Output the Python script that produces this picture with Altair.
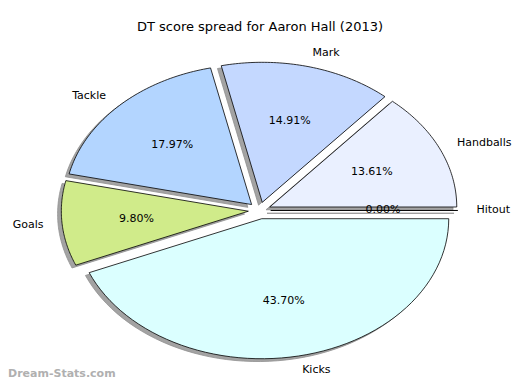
import altair as alt
import pandas as pd

categories = ["Handballs", "Mark", "Tackle", "Goals", "Kicks", "Hitout"]
values = [13.61, 14.91, 17.97, 9.80, 43.70, 0.0]
explode = [0.06, 0.06, 0.06, 0.06, 0.06, 0.06]
colors = ["#EAF0FF", "#C4D8FF", "#B3D5FF", "#D0EB8A", "#DBFFFF", "#F0F0F0"]
labels = ["13.61%", "14.91%", "17.97%", "9.80%", "43.70%", "0.00%"]

df = pd.DataFrame({
    "category": categories,
    "value": values,
    "explode": explode,
    "color": colors,
    "pct": labels,
    "order": list(range(len(categories))),
})

W, H = 504, 374
xs = alt.Scale(domain=[-1.345, 1.350], nice=False, zero=False)
ys = alt.Scale(domain=[-1.225, 1.446], nice=False, zero=False)

base = (
    alt.Chart(df)
    .transform_joinaggregate(total="sum(value)")
    .transform_window(cum="sum(value)", sort=[alt.SortField("order")], frame=[None, 0])
    .transform_calculate(
        a0="2*PI*(datum.cum - datum.value)/datum.total",
        a1="2*PI*datum.cum/datum.total",
    )
    .transform_calculate(mid="(datum.a0 + datum.a1)/2")
    .transform_calculate(
        ex="datum.explode*cos(datum.mid)",
        ey="datum.explode*sin(datum.mid)",
    )
)

poly = (
    base.transform_calculate(steps="sequence(0, 63)")
    .transform_flatten(["steps"], as_=["k"])
    .transform_calculate(
        ang="datum.a0 + (datum.a1 - datum.a0)*clamp((datum.k - 1)/60, 0, 1)",
        r="(datum.k == 0 || datum.k == 62) ? 0 : 1",
    )
    .transform_calculate(
        px="datum.ex + datum.r*cos(datum.ang)",
        py="datum.ey + datum.r*sin(datum.ang)",
    )
    .transform_calculate(sx="datum.px - 0.02", sy="datum.py - 0.02")
)

shadow = poly.mark_line(fill="#999999", fillOpacity=0.9, stroke="#8f8f8f", strokeWidth=0.8, interpolate="linear").encode(
    x=alt.X("sx:Q", scale=xs, axis=None),
    y=alt.Y("sy:Q", scale=ys, axis=None),
    detail="category:N",
    order="k:Q",
)

wedges = poly.mark_line(stroke="black", strokeWidth=0.8, interpolate="linear").encode(
    x=alt.X("px:Q", scale=xs, axis=None),
    y=alt.Y("py:Q", scale=ys, axis=None),
    fill=alt.Fill("color:N", scale=None),
    detail="category:N",
    order="k:Q",
)

lab = base.transform_calculate(
    lx="datum.ex + 1.1*cos(datum.mid)",
    ly="datum.ey + 1.1*sin(datum.mid)",
    px2="datum.ex + 0.6*cos(datum.mid)",
    py2="datum.ey + 0.6*sin(datum.mid)",
)

font = "DejaVu Sans"
lab_left = lab.transform_filter("cos(datum.mid) > 0").mark_text(
    align="left", baseline="middle", font=font, fontSize=11, color="black"
).encode(x=alt.X("lx:Q", scale=xs), y=alt.Y("ly:Q", scale=ys), text="category:N")

lab_right = lab.transform_filter("cos(datum.mid) <= 0").mark_text(
    align="right", baseline="middle", font=font, fontSize=11, color="black"
).encode(x=alt.X("lx:Q", scale=xs), y=alt.Y("ly:Q", scale=ys), text="category:N")

pcts = lab.mark_text(align="center", baseline="middle", font=font, fontSize=11, color="black").encode(
    x=alt.X("px2:Q", scale=xs), y=alt.Y("py2:Q", scale=ys), text="pct:N"
)

title = alt.Chart(pd.DataFrame({"t": ["DT score spread for Aaron Hall (2013)"]})).mark_text(
    align="center", baseline="middle", font=font, fontSize=13, color="black"
).encode(x=alt.value(252), y=alt.value(19), text="t:N")

watermark = alt.Chart(pd.DataFrame({"t": ["Dream-Stats.com"]})).mark_text(
    align="left", baseline="middle", font=font, fontSize=11, fontWeight="bold", color="#b0b0b0"
).encode(x=alt.value(0), y=alt.value(366), text="t:N")

chart = alt.layer(shadow, wedges, lab_left, lab_right, pcts, title, watermark).properties(
    width=W, height=H, autosize=alt.AutoSizeParams(type="none"), padding=0
).configure_view(stroke=None)

chart.save("out.html", embed_options={"renderer": "svg", "actions": False})
